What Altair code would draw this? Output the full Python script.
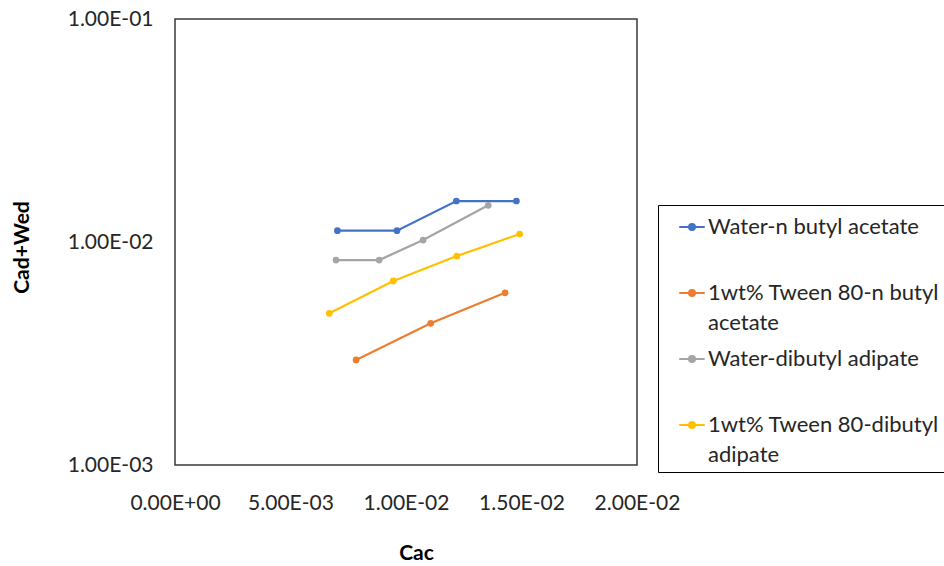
import altair as alt
import pandas as pd

series_names = ["Water-n butyl acetate", "1wt% Tween 80-n butyl acetate",
                "Water-dibutyl adipate", "1wt% Tween 80-dibutyl adipate"]
colors = ["#4472C4", "#ED7D31", "#A5A5A5", "#FFC000"]

x_water_nba = [0.00703, 0.00961, 0.01218, 0.01478]
y_water_nba = [0.01124, 0.01124, 0.01527, 0.01527]
x_tween_nba = [0.00784, 0.01107, 0.01429]
y_tween_nba = [0.00296, 0.00432, 0.00592]
x_water_dba = [0.00697, 0.00884, 0.01074, 0.01356]
y_water_dba = [0.00830, 0.00830, 0.01020, 0.01460]
x_tween_dba = [0.00668, 0.00945, 0.01220, 0.01492]
y_tween_dba = [0.00479, 0.00669, 0.00865, 0.01086]

x_ticks = [0, 0.005, 0.01, 0.015, 0.02]
x_tick_labels = ["0.00E+00", "5.00E-03", "1.00E-02", "1.50E-02", "2.00E-02"]
y_ticks = [0.001, 0.01, 0.1]
y_tick_labels = ["1.00E-03", "1.00E-02", "1.00E-01"]

rows = []
for name, xs, ys in zip(series_names,
                        [x_water_nba, x_tween_nba, x_water_dba, x_tween_dba],
                        [y_water_nba, y_tween_nba, y_water_dba, y_tween_dba]):
    for xv, yv in zip(xs, ys):
        rows.append({"series": name, "Cac": xv, "CadWed": yv})
df = pd.DataFrame(rows)


def tick_expr(vals, labels):
    expr = "''"
    for v, l in reversed(list(zip(vals, labels))):
        expr = f"abs(datum.value - {v}) < {max(v, 1e-6) * 1e-3} ? '{l}' : ({expr})"
    return expr


legend_expr = (
    "datum.label == '1wt% Tween 80-n butyl acetate' ? ['1wt% Tween 80-n butyl', 'acetate'] : "
    "datum.label == '1wt% Tween 80-dibutyl adipate' ? ['1wt% Tween 80-dibutyl', 'adipate'] : "
    "[datum.label, '']"
)

symbol_path = "M-0.85,0H0.85M0.2,0A0.2,0.2,0,1,1,-0.2,0A0.2,0.2,0,1,1,0.2,0Z"

FONT = "Lato"
TXT = "#262626"

chart = alt.Chart(df).mark_line(
    strokeWidth=2.25,
    point=alt.OverlayMarkDef(filled=True, size=45, opacity=1),
).encode(
    x=alt.X("Cac:Q",
            scale=alt.Scale(domain=[0, 0.02], nice=False, zero=False),
            axis=alt.Axis(title="Cac", values=x_ticks, labelExpr=tick_expr(x_ticks, x_tick_labels),
                          grid=False, ticks=False, domain=False, labelPadding=27,
                          labelFontSize=21, labelColor=TXT, labelFont=FONT,
                          titleFontSize=21, titleFontWeight="bold", titleFont=FONT, titleColor="#000000",
                          titleX=241, titleY=88, titleBaseline="middle", titleAnchor="middle",
                          labelFlush=False, labelOverlap=False)),
    y=alt.Y("CadWed:Q",
            scale=alt.Scale(type="log", domain=[0.001, 0.1], nice=False),
            axis=alt.Axis(title="Cad+Wed", values=y_ticks, labelExpr=tick_expr(y_ticks, y_tick_labels),
                          grid=False, ticks=False, domain=False, labelPadding=22,
                          labelFontSize=21, labelColor=TXT, labelFont=FONT,
                          titleFontSize=21, titleFontWeight="bold", titleFont=FONT, titleColor="#000000",
                          titleX=-153, titleY=228, titleAngle=270, titleBaseline="middle",
                          titleAnchor="middle", labelFlush=False, labelOverlap=False)),
    color=alt.Color("series:N",
                    scale=alt.Scale(domain=series_names, range=colors),
                    title=None,
                    legend=alt.Legend(orient="none", legendX=483, legendY=186,
                                      labelExpr=legend_expr, labelFontSize=22, labelFont=FONT,
                                      labelColor=TXT, labelLimit=400,
                                      symbolType=symbol_path, symbolSize=900, symbolStrokeWidth=2,
                                      symbolOffset=12, labelOffset=0, rowPadding=9,
                                      padding=6, strokeColor="#000000", fillColor="#ffffff")),
).properties(
    width=462, height=446,
    background="#ffffff",
    autosize=alt.AutoSizeParams(type="none"),
    padding={"left": 175, "top": 19, "right": 307, "bottom": 101},
).configure(
    style={"guide-label": {"lineHeight": 30}}
).configure_view(
    stroke="#3a3a3a", strokeWidth=1.5
)

chart.save("out.html", embed_options={"renderer": "svg", "actions": False})
